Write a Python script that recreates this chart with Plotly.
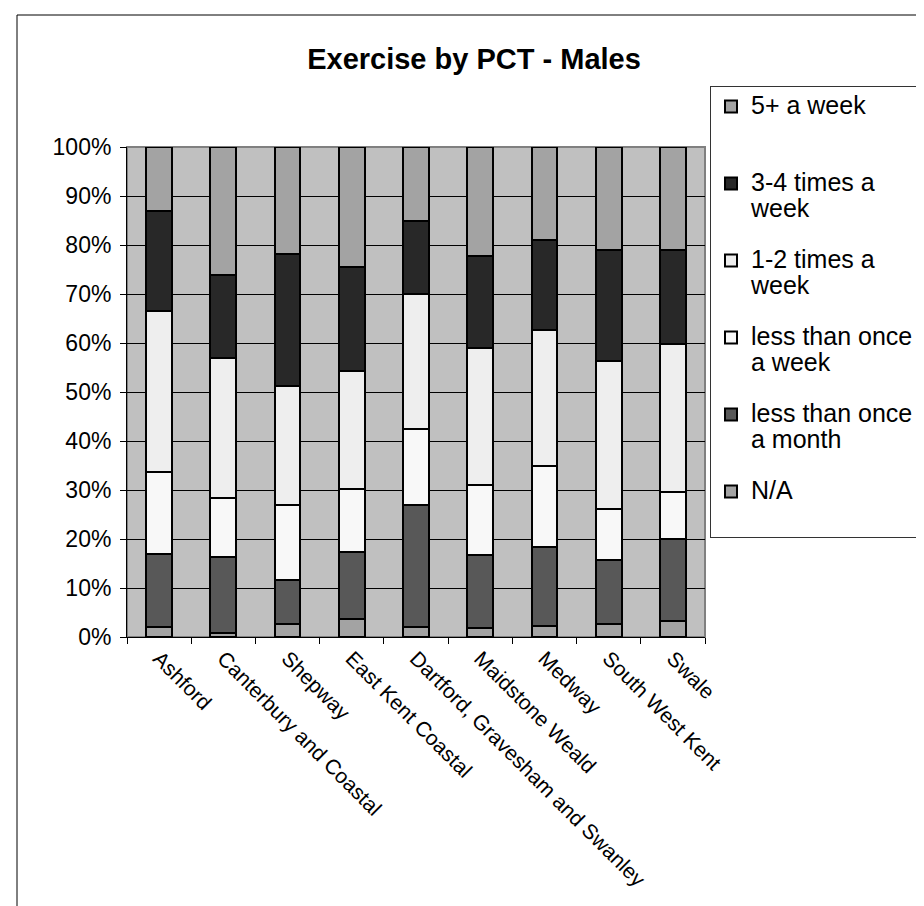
import plotly.graph_objects as go

# PCT areas (x axis)
pcts = ["Ashford", "Canterbury and Coastal", "Shepway", "East Kent Coastal",
        "Dartford, Gravesham and Swanley", "Maidstone Weald", "Medway",
        "South West Kent", "Swale"]

# percentages (bottom -> top)
na = [2.0, 0.9, 2.7, 3.6, 2.0, 1.9, 2.2, 2.6, 3.2]
less_month = [15.0, 15.4, 9.0, 13.8, 24.9, 14.8, 16.2, 13.2, 16.7]
less_week = [16.7, 12.1, 15.2, 12.8, 15.5, 14.4, 16.6, 10.3, 9.6]
one_two = [32.8, 28.5, 24.3, 24.1, 27.7, 27.8, 27.7, 30.3, 30.2]
three_four = [20.4, 16.9, 27.0, 21.2, 14.8, 18.9, 18.3, 22.6, 19.3]
five_plus = [13.1, 26.2, 21.8, 24.5, 15.1, 22.2, 19.0, 21.0, 21.0]

# legend labels, one list per entry (each entry is two lines tall, like Excel)
legend_lines = [
    ["N/A", " "],
    ["less than once", "a month"],
    ["less than once", "a week"],
    ["1-2 times a", "week"],
    ["3-4 times a", "week"],
    ["5+ a week", " "],
]
values = [na, less_month, less_week, one_two, three_four, five_plus]
colors = ["#A3A3A3", "#585858", "#F8F8F8", "#EEEEEE", "#282828", "#A3A3A3"]


def legend_name(lines):
    # bigger glyphs than the legend's base font so lines sit close together
    return "<br>".join('<span style="font-size:25px">%s</span>' % l for l in lines)


fig = go.Figure()
for i, (lines, vals, col) in enumerate(zip(legend_lines, values, colors)):
    fig.add_trace(go.Bar(
        x=pcts, y=vals, name=legend_name(lines), legendgroup=str(i),
        legendrank=len(values) - i,
        marker=dict(color=col, line=dict(color="black", width=2)),
    ))

fig.update_layout(
    width=924, height=906,
    barmode="stack", bargap=0.6,
    font=dict(family="Liberation Sans, Arial", size=23, color="black"),
    paper_bgcolor="white", plot_bgcolor="#C0C0C0",
    margin=dict(l=119, r=227, t=139, b=277, autoexpand=False),
    title=dict(text="<b>Exercise by PCT - Males</b>", font=dict(size=29),
               x=466 / 924, xref="container", xanchor="center",
               y=1 - 51 / 906, yref="container", yanchor="middle"),
    legend=dict(
        x=702 / 924, y=1 - 78 / 906, xref="container", yref="container",
        xanchor="left", yanchor="top",
        traceorder="grouped", tracegroupgap=22, valign="top",
        bordercolor="#333333", borderwidth=1, bgcolor="white",
        font=dict(size=20), itemclick=False,
    ),
    showlegend=True,
)

fig.update_xaxes(
    type="category", tickangle=45, tickson="boundaries", ticks="outside",
    ticklen=6, tickcolor="black", showline=True, linecolor="black",
    tickfont=dict(size=21), showgrid=False,
)
fig.update_yaxes(
    range=[0, 100], dtick=10, ticksuffix="%", ticks="outside", ticklen=6,
    tickcolor="black", showline=True, linecolor="black", showgrid=True,
    gridcolor="black", gridwidth=1, zeroline=False, ticklabelstandoff=4,
)

# gray frame round the plot area
fig.add_shape(type="rect", xref="paper", yref="paper", x0=0, x1=1, y0=0, y1=1,
              line=dict(color="#808080", width=2), layer="below")

# outer chart border (only top and left edges fall inside the picture)
fig.add_shape(type="rect", xref="paper", yref="paper",
              x0=(9 - 119) / 578, x1=(935 - 119) / 578,
              y0=(629 - 915) / 490, y1=(629 - 7) / 490,
              line=dict(color="black", width=1), layer="below")

fig.write_html("out.html")
